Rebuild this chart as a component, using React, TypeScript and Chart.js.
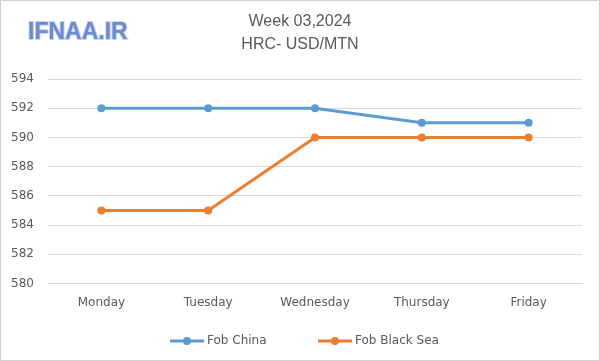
import React, { useEffect, useRef } from "react";
import { Chart, registerables } from "chart.js";

Chart.register(...registerables);

const categories = ["Monday", "Tuesday", "Wednesday", "Thursday", "Friday"];
const fobChina = [592, 592, 592, 591, 591];
const fobBlackSea = [585, 585, 590, 590, 590];
const seriesNames = ["Fob China", "Fob Black Sea"];
const seriesColors = ["#5B9BD5", "#ED7D31"];
const titleLines = ["Week 03,2024", "HRC- USD/MTN"];
const logoText = "IFNAA.IR";
const yMin = 580;
const yMax = 594;
const yStep = 2;

const AXIS_FONT = "'DejaVu Sans', sans-serif";

const decorPlugin = {
  id: "decor",
  beforeDraw(chart: any) {
    const ctx = chart.ctx as CanvasRenderingContext2D;
    ctx.save();
    ctx.fillStyle = "#ffffff";
    ctx.fillRect(0, 0, chart.width, chart.height);
    ctx.restore();
  },
  afterDraw(chart: any) {
    const ctx = chart.ctx as CanvasRenderingContext2D;
    const w = chart.width;
    const h = chart.height;
    ctx.save();
    ctx.strokeStyle = "#d0d0d0";
    ctx.lineWidth = 1;
    ctx.strokeRect(0.5, 0.5, w - 1, h - 1);

    // logo
    ctx.font = "bold 23px 'Liberation Sans', Arial, sans-serif";
    ctx.textBaseline = "middle";
    ctx.textAlign = "left";
    ctx.lineWidth = 2;
    ctx.strokeStyle = "#c9d4ee";
    ctx.strokeText(logoText, 28, 33);
    ctx.fillStyle = "#6a8ad4";
    ctx.fillText(logoText, 28, 33);

    // title
    ctx.font = "16px 'Liberation Sans', Arial, sans-serif";
    ctx.fillStyle = "#595959";
    ctx.textAlign = "center";
    ctx.fillText(titleLines[0], 300, 22);
    ctx.fillText(titleLines[1], 300, 45);

    // legend
    const legendItems = [
      { x: 170, name: seriesNames[0], color: seriesColors[0] },
      { x: 318, name: seriesNames[1], color: seriesColors[1] },
    ];
    const ly = 341;
    ctx.font = "12px " + AXIS_FONT;
    ctx.textAlign = "left";
    for (const it of legendItems) {
      ctx.strokeStyle = it.color;
      ctx.lineWidth = 3;
      ctx.beginPath();
      ctx.moveTo(it.x, ly);
      ctx.lineTo(it.x + 34, ly);
      ctx.stroke();
      ctx.fillStyle = it.color;
      ctx.beginPath();
      ctx.arc(it.x + 17, ly, 4, 0, Math.PI * 2);
      ctx.fill();
      ctx.fillStyle = "#595959";
      ctx.fillText(it.name, it.x + 37, ly);
    }
    ctx.restore();
  },
};

export default function App() {
  const ref = useRef<HTMLCanvasElement | null>(null);
  useEffect(() => {
    if (!ref.current) return;
    const mkDs = (label: string, data: number[], color: string) => ({
      label,
      data,
      borderColor: color,
      backgroundColor: color,
      borderWidth: 3,
      pointRadius: 4,
      pointBorderWidth: 0,
      pointBackgroundColor: color,
      tension: 0,
    });
    const chart = new Chart(ref.current, {
      type: "line",
      data: {
        labels: categories,
        datasets: [
          mkDs(seriesNames[0], fobChina, seriesColors[0]),
          mkDs(seriesNames[1], fobBlackSea, seriesColors[1]),
        ],
      },
      options: {
        responsive: false,
        animation: false,
        layout: { padding: { top: 79, left: 11, right: 18, bottom: 39 } },
        plugins: {
          legend: { display: false },
          title: { display: false },
          tooltip: { enabled: false },
        },
        scales: {
          x: {
            offset: true,
            grid: { display: false, drawTicks: false },
            border: { display: true, color: "#d9d9d9" },
            ticks: {
              color: "#595959",
              font: { family: AXIS_FONT, size: 12 },
              padding: 12,
              maxRotation: 0,
            },
          },
          y: {
            min: yMin,
            max: yMax,
            afterFit: (scale: any) => {
              scale.width = 37;
            },
            grid: { color: "#d9d9d9", drawTicks: false },
            border: { display: false },
            ticks: {
              stepSize: yStep,
              color: "#595959",
              font: { family: AXIS_FONT, size: 12 },
              padding: 14,
            },
          },
        },
      },
      plugins: [decorPlugin],
    });
    return () => chart.destroy();
  }, []);
  return (
    <div style={{ position: "absolute", left: 0, top: 0, width: 600, height: 361 }}>
      <canvas ref={ref} width={600} height={361} style={{ display: "block" }} />
    </div>
  );
}
